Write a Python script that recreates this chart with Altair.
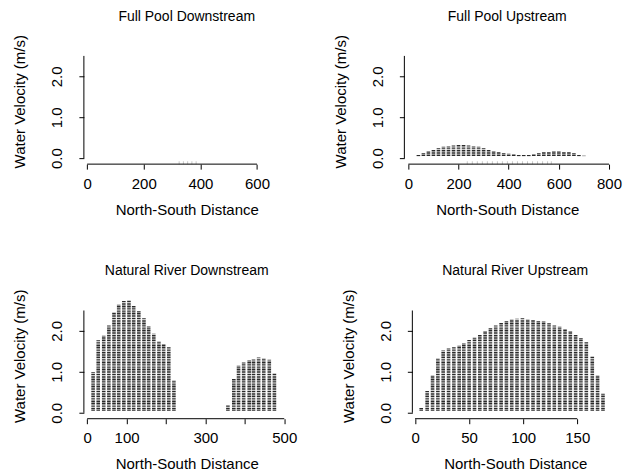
import altair as alt
import pandas as pd

# ---------------- data ----------------
# Full Pool Downstream: velocities essentially zero (faint marks on the axis)
fpd_x = [325, 340, 355, 370, 385]
fpd_v = [-0.11, -0.11, -0.11, -0.11, -0.11]

# Full Pool Upstream
fpu_x = [40, 60, 80, 100, 120, 140, 160, 180, 200, 220, 240, 260, 280, 300,
         320, 340, 360, 380, 400, 420, 440, 460, 480, 500, 520, 540, 560, 580,
         600, 620, 640, 660, 680, 700]
fpu_v = [0.09, 0.13, 0.17, 0.21, 0.25, 0.28, 0.29, 0.31, 0.32, 0.32, 0.31, 0.30,
         0.28, 0.25, 0.21, 0.17, 0.15, 0.12, 0.11, 0.10, 0.09, 0.09, 0.09, 0.10,
         0.12, 0.15, 0.15, 0.16, 0.16, 0.15, 0.15, 0.12, 0.09, 0.06]
fpu_zero_x = [235, 255, 275, 295, 315, 335, 355, 375, 395, 415, 435, 455, 475,
              495, 515, 535, 555, 570]

# Natural River Downstream
nrd_x = [15, 28, 42, 55, 68, 80, 93, 106, 118, 131, 144, 156, 169, 182, 194,
         207, 220,
         357, 372, 384, 397, 411, 422, 435, 448, 462, 475]
nrd_v = [1.00, 1.77, 1.88, 2.14, 2.46, 2.64, 2.74, 2.75, 2.62, 2.48, 2.31, 2.13,
         1.93, 1.75, 1.68, 1.60, 0.79,
         0.19, 0.84, 1.15, 1.23, 1.29, 1.31, 1.35, 1.33, 1.30, 0.97]

# Natural River Upstream
nru_x = [5.7, 11.2, 16.2, 21.1, 26.0, 31.0, 35.9, 40.8, 45.1, 50.0, 55.0, 59.9,
         64.8, 69.7, 74.6, 79.6, 84.5, 89.4, 94.3, 99.3, 104.2, 109.1, 114.0,
         118.9, 123.9, 128.8, 133.7, 138.7, 143.6, 148.5, 153.4, 158.4, 163.9,
         168.8, 173.8]
nru_v = [0.13, 0.53, 0.92, 1.33, 1.52, 1.58, 1.60, 1.64, 1.70, 1.78, 1.84, 1.92,
         1.99, 2.07, 2.14, 2.20, 2.25, 2.28, 2.30, 2.31, 2.29, 2.27, 2.25, 2.23,
         2.19, 2.14, 2.10, 2.05, 1.99, 1.91, 1.83, 1.73, 1.38, 0.92, 0.47]

base_v = 0.05
y_ticks = [0, 0.5, 1, 1.5, 2, 2.5]
y_domain = [-0.146, 2.93]

FONT = "Liberation Sans"
W, H = 206, 126


def panel(title, xs, vs, xdomain, xticks, xlabel_expr, faint=None, draw_cols=True):
    df = pd.DataFrame({"x": xs, "v": vs, "b": [base_v] * len(xs)})
    xs_ = alt.Scale(domain=xdomain, nice=False, zero=False)
    ys_ = alt.Scale(domain=y_domain, nice=False, zero=False)
    x_axis = alt.Axis(values=xticks, labelExpr=xlabel_expr, title="North-South Distance",
                      grid=False, domain=False, tickSize=5, tickColor="black",
                      labelPadding=7, titlePadding=11)
    y_axis = alt.Axis(values=y_ticks,
                      labelExpr="datum.value % 1 == 0 ? format(datum.value, '.1f') : ''",
                      title="Water Velocity (m/s)", grid=False, domain=False,
                      tickSize=5, tickColor="black", labelAngle=270,
                      labelPadding=14, titlePadding=22)
    layers = []
    if draw_cols:
        cols = alt.Chart(df).mark_rule(strokeWidth=3.6, color="#2a2a2a",
                                       strokeDash=[1.1, 0.6]).encode(
            x=alt.X("x:Q", scale=xs_, axis=x_axis),
            y=alt.Y("b:Q", scale=ys_, axis=y_axis),
            y2="v:Q")
    else:
        cols = alt.Chart(df).mark_tick(color="#b0b0b0", thickness=1, size=3,
                                       orient="vertical").encode(
            x=alt.X("x:Q", scale=xs_, axis=x_axis),
            y=alt.Y("v:Q", scale=ys_, axis=y_axis))
    layers.append(cols)
    if faint is not None:
        fdf = pd.DataFrame({"x": faint, "v": [-0.11] * len(faint)})
        layers.append(alt.Chart(fdf).mark_tick(color="#b0b0b0", thickness=1, size=3,
                                               orient="vertical").encode(
            x=alt.X("x:Q", scale=xs_), y=alt.Y("v:Q", scale=ys_)))
    xl = pd.DataFrame({"a": [xticks[0]], "c": [xticks[-1]]})
    layers.append(alt.Chart(xl).mark_rule(color="black", strokeWidth=1).encode(
        x=alt.X("a:Q", scale=xs_), x2="c:Q", y=alt.value(H)))
    yl = pd.DataFrame({"a": [y_ticks[0]], "c": [y_ticks[-1]]})
    layers.append(alt.Chart(yl).mark_rule(color="black", strokeWidth=1).encode(
        y=alt.Y("a:Q", scale=ys_), y2="c:Q", x=alt.value(0)))
    return alt.layer(*layers).properties(
        width=W, height=H,
        title=alt.TitleParams(title, fontSize=14, font=FONT, fontWeight="normal",
                              anchor="middle", offset=11, color="black"))


p1 = panel("Full Pool Downstream", fpd_x, fpd_v, [-11.6, 715], [0, 200, 400, 600],
           "format(datum.value, 'd')", draw_cols=False)
p2 = panel("Full Pool Upstream", fpu_x, fpu_v, [-15.9, 804], [0, 200, 400, 600, 800],
           "format(datum.value, 'd')", faint=fpu_zero_x)
p3 = panel("Natural River Downstream", nrd_x, nrd_v, [-8.4, 513.4],
           [0, 100, 200, 300, 400, 500],
           "(datum.value == 200 || datum.value == 400) ? '' : format(datum.value, 'd')")
p4 = panel("Natural River Upstream", nru_x, nru_v, [-2.5, 187.7], [0, 50, 100, 150],
           "format(datum.value, 'd')")

chart = alt.vconcat(
    alt.hconcat(p1, p2, spacing=44),
    alt.hconcat(p3, p4, spacing=44),
    spacing=47,
    background="white",
    padding={"left": 5, "top": 1, "right": 5, "bottom": 5},
).configure_view(stroke=None).configure_axis(
    labelFont=FONT, titleFont=FONT, labelFontSize=15, titleFontSize=15,
    labelColor="black", titleColor="black", titleFontWeight="normal",
)

chart.save("out.html", embed_options={"renderer": "svg", "actions": False})
